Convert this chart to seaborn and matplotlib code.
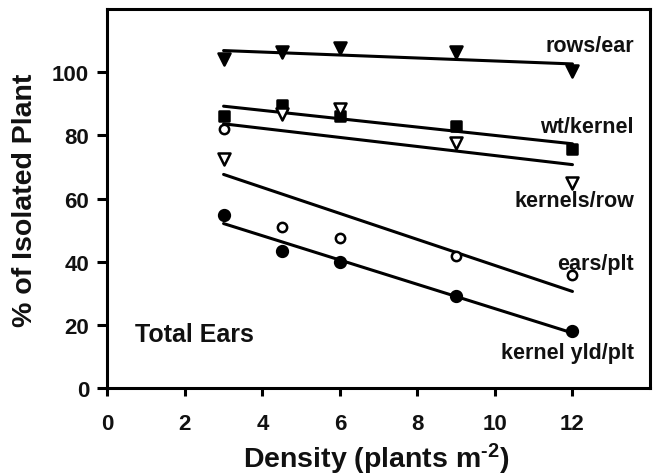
import numpy as np
import pandas as pd
import matplotlib
matplotlib.use("Agg")
import matplotlib.pyplot as plt
import seaborn as sns

# ---- data ----
density = [3, 4.5, 6, 9, 12]
rows_ear = [104.3, 106.5, 107.7, 106.3, 100.3]
wt_kernel = [86.3, 89.5, 86.1, 83.0, 75.6]
kernels_row = [72.4, 86.7, 88.5, 77.7, 65.1]
ears_plt = [82.0, 50.9, 47.7, 41.7, 35.8]
kernel_yld_plt = [54.8, 43.5, 40.0, 29.3, 18.0]

series_names = ["rows/ear", "wt/kernel", "kernels/row", "ears/plt", "kernel yld/plt"]
series_values = [rows_ear, wt_kernel, kernels_row, ears_plt, kernel_yld_plt]
label_y = [108.3, 82.7, 59.3, 39.6, 11.2]

x_ticks = [0, 2, 4, 6, 8, 10, 12]
y_ticks = [0, 20, 40, 60, 80, 100]

df = pd.DataFrame({
    "density": np.tile(density, len(series_names)),
    "value": np.concatenate(series_values),
    "series": np.repeat(series_names, len(density)),
})

sns.set_theme(style="white")
plt.rcParams["font.family"] = ["Liberation Sans", "DejaVu Sans"]
plt.rcParams["font.weight"] = "bold"
plt.rcParams["mathtext.fontset"] = "custom"
plt.rcParams["mathtext.bf"] = "Liberation Sans:bold"
plt.rcParams["mathtext.rm"] = "Liberation Sans:bold"
plt.rcParams["mathtext.default"] = "bf"

fig = plt.figure(figsize=(6.53, 4.77), dpi=100)
ax = fig.add_axes([0.1643, 0.1839, 0.9954 - 0.1643, 0.979 - 0.1839])

styles = {
    "rows/ear": dict(marker="v", facecolor="black", s=75),
    "wt/kernel": dict(marker="s", facecolor="black", s=55),
    "kernels/row": dict(marker="v", facecolor="white", s=75),
    "ears/plt": dict(marker="o", facecolor="white", s=45),
    "kernel yld/plt": dict(marker="o", facecolor="black", s=60),
}

for name in series_names:
    sub = df[df["series"] == name]
    sns.regplot(data=sub, x="density", y="value", ax=ax, scatter=False,
                ci=None, color="black", line_kws=dict(linewidth=2.2, zorder=2))
    st = styles[name]
    sns.scatterplot(data=sub, x="density", y="value", ax=ax,
                    marker=st["marker"], s=st["s"], color=st["facecolor"],
                    edgecolor="black", linewidth=1.8, zorder=3, legend=False)

for name, yy in zip(series_names, label_y):
    ax.text(13.585, yy, name, ha="right", va="center", fontsize=15.5,
            fontweight="bold", color="#111111")

ax.text(0.71, 17.2, "Total Ears", ha="left", va="center", fontsize=18,
        fontweight="bold", color="#111111")

ax.set_xlim(0, 14)
ax.set_ylim(0, 120)
ax.set_xticks(x_ticks)
ax.set_xticklabels([str(t) for t in x_ticks])
ax.set_yticks(y_ticks)
ax.set_yticklabels([str(t) for t in y_ticks])

ax.tick_params(axis="x", direction="out", length=6, width=2.2, pad=12,
               labelsize=16, colors="black", bottom=True)
ax.tick_params(axis="y", direction="out", length=7, width=2.2, pad=6,
               labelsize=16, colors="black", left=True)
for lab in ax.get_xticklabels() + ax.get_yticklabels():
    lab.set_fontweight("bold")
    lab.set_color("#111111")

for sp in ax.spines.values():
    sp.set_visible(True)
    sp.set_color("black")
    sp.set_linewidth(2.2)

ax.set_xlabel(r"Density (plants m$^{\text{-2}}$)", fontsize=20.5,
              fontweight="bold", color="#111111", va="center")
ax.set_ylabel("% of Isolated Plant", fontsize=20.5, fontweight="bold",
              color="#111111", va="center")
ax.xaxis.set_label_coords(0.495, -0.186)
ax.yaxis.set_label_coords(-0.1517, 0.499)

fig.savefig("out.png", dpi=100, facecolor="white")
